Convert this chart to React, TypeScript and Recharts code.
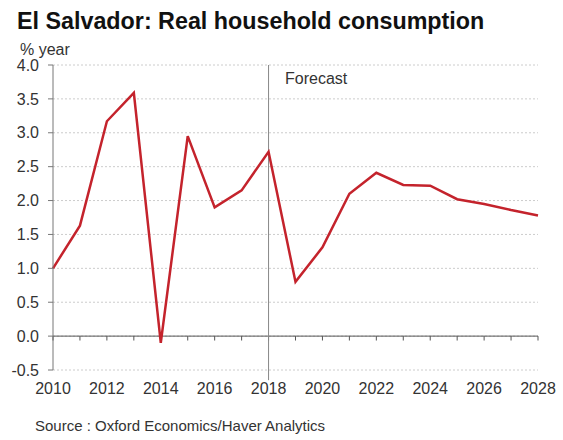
import { CartesianGrid, Line, LineChart, ReferenceLine, XAxis, YAxis } from "recharts";

const years = [
  2010, 2011, 2012, 2013, 2014, 2015, 2016, 2017, 2018, 2019, 2020, 2021, 2022, 2023, 2024, 2025, 2026,
  2027, 2028,
];
const consumption = [
  1.0, 1.63, 3.17, 3.59, -0.1, 2.95, 1.9, 2.15, 2.72, 0.8, 1.31, 2.1, 2.41, 2.23, 2.22, 2.02, 1.95,
  1.86, 1.78,
];
const yTicks = [-0.5, 0, 0.5, 1.0, 1.5, 2.0, 2.5, 3.0, 3.5, 4.0];
const forecastStart = 2018;

const data = years.map((year, i) => ({ year, value: consumption[i] }));

const font = "'Liberation Sans', Arial, sans-serif";
const textColor = "#333";
const axisColor = "#777";
const lineColor = "#c4232c";

export default function App() {
  return (
    <div
      style={{
        position: "absolute",
        left: 0,
        top: 0,
        width: 563,
        height: 440,
        background: "#fff",
        fontFamily: font,
        color: textColor,
      }}
    >
      <div style={{ position: "absolute", left: 17, top: 8, fontSize: 23.3, fontWeight: "bold", color: "#111" }}>
        El Salvador: Real household consumption
      </div>
      <div style={{ position: "absolute", left: 20, top: 41, fontSize: 16 }}>% year</div>
      <div style={{ position: "absolute", left: 285, top: 70, fontSize: 16 }}>Forecast</div>
      <div style={{ position: "absolute", left: 35, top: 417, fontSize: 15 }}>
        Source : Oxford Economics/Haver Analytics
      </div>
      <LineChart
        width={563}
        height={440}
        data={data}
        margin={{ top: 65, right: 25, left: 8, bottom: 40 }}
        style={{ position: "absolute", left: 0, top: 0 }}
      >
        <CartesianGrid vertical={false} stroke="#ccc" strokeDasharray="2 2" />
        <XAxis
          dataKey="year"
          type="number"
          domain={[2010, 2028]}
          ticks={years}
          interval={0}
          tickFormatter={(v: number) => (v % 2 === 0 ? String(v) : "")}
          axisLine={false}
          tickLine={false}
          tickSize={6}
          tickMargin={7}
          height={30}
          tick={{ fill: textColor, fontSize: 16, fontFamily: font }}
        />
        <YAxis
          domain={[-0.5, 4]}
          ticks={yTicks}
          interval={0}
          tickFormatter={(v: number) => v.toFixed(1)}
          width={45}
          axisLine={{ stroke: axisColor }}
          tickLine={{ stroke: axisColor }}
          tickSize={5}
          tickMargin={9}
          tick={{ fill: textColor, fontSize: 16, fontFamily: font }}
        />
        <ReferenceLine y={0} stroke="#555" />
        {years.map((yr) => (
          <ReferenceLine
            key={yr}
            segment={[
              { x: yr, y: 0 },
              { x: yr, y: -0.065 },
            ]}
            stroke="#555"
          />
        ))}
        <ReferenceLine
          segment={[
            { x: forecastStart, y: 4 },
            { x: forecastStart, y: -0.65 },
          ]}
          ifOverflow="visible"
          stroke="#888"
        />
        <Line
          type="linear"
          dataKey="value"
          stroke={lineColor}
          strokeWidth={2.5}
          dot={false}
          isAnimationActive={false}
        />
      </LineChart>
    </div>
  );
}
